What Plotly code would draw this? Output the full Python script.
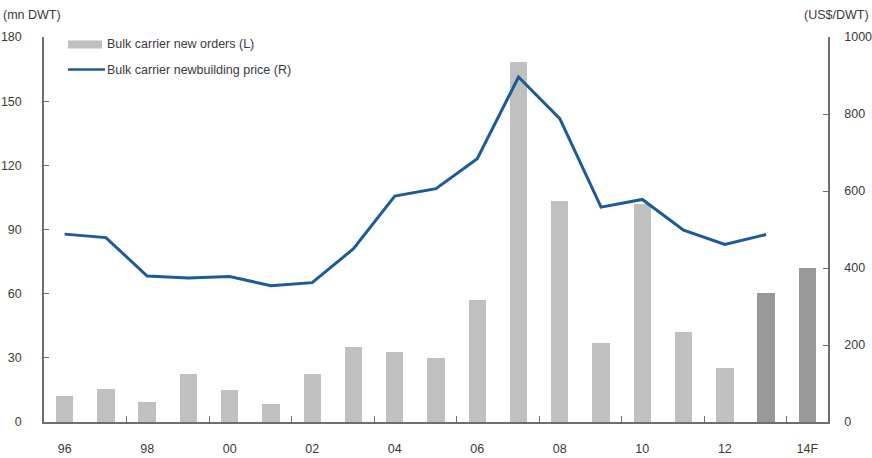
import plotly.graph_objects as go

# Years (two-digit labels), 2014 is a forecast
years = ["96", "97", "98", "99", "00", "01", "02", "03", "04", "05",
         "06", "07", "08", "09", "10", "11", "12", "13", "14F"]

# Bulk carrier new orders, mn DWT (left axis)
new_orders = [12.2, 15.3, 9.5, 22.3, 14.8, 8.3, 22.3, 35.1, 32.6, 30.1,
              57.2, 168.3, 103.3, 36.9, 102.1, 41.9, 25.3, 60.3, 72.0]

# Bulk carrier newbuilding price, US$/DWT (right axis), no value for 14F
nb_price = [488, 479, 379, 374, 378, 354, 362, 450, 587, 606,
            684, 896, 788, 558, 578, 498, 461, 487]

left_ticks = [0, 30, 60, 90, 120, 150, 180]
right_ticks = [0, 200, 400, 600, 800, 1000]
label_years = years[::2]

LIGHT = "#c0c0c0"
DARK = "#989898"
BLUE = "#1d5a98"
AXIS = "#6e6e6e"
TEXT = "#3a3a3a"
FONT = "Liberation Sans, Arial, sans-serif"

xs = list(range(len(years)))
bar_colors = [DARK if i >= 17 else LIGHT for i in xs]
# small separator ticks sit just before each labelled (even) year
sep_ticks = [i - 0.5 for i in xs[2::2]]

fig = go.Figure()
fig.add_trace(go.Bar(
    x=xs, y=new_orders, width=0.42, marker=dict(color=bar_colors, line_width=0),
    name="Bulk carrier new orders (L)", showlegend=False,
))
fig.add_trace(go.Scatter(
    x=xs[:len(nb_price)], y=nb_price, mode="lines", yaxis="y2",
    line=dict(color=BLUE, width=3), name="Bulk carrier newbuilding price (R)",
    showlegend=False,
))

W, H = 872, 458
ML, MR, MT, MB = 44, 44, 37, 36
pw, ph = W - ML - MR, H - MT - MB


def px(x):
    return (x - ML) / pw


def py(y):
    return (H - MB - y) / ph


# Hand-built legend: wide grey swatch and a line swatch
shapes = [
    dict(type="rect", xref="paper", yref="paper",
         x0=px(68), x1=px(102), y0=py(48.5), y1=py(40.5),
         fillcolor=LIGHT, line_width=0),
    dict(type="line", xref="paper", yref="paper",
         x0=px(68), x1=px(105), y0=py(69.5), y1=py(69.5),
         line=dict(color=BLUE, width=2.5)),
]
annotations = [
    dict(text=fig.data[0].name, xref="paper", yref="paper", x=px(105), y=py(44.5),
         xanchor="left", yanchor="middle", showarrow=False,
         font=dict(size=12.5, color=TEXT, family=FONT)),
    dict(text=fig.data[1].name, xref="paper", yref="paper", x=px(105), y=py(69.5),
         xanchor="left", yanchor="middle", showarrow=False,
         font=dict(size=12.5, color=TEXT, family=FONT)),
    dict(text="(mn DWT)", xref="paper", yref="paper", x=px(1), y=py(15),
         xanchor="left", yanchor="middle", showarrow=False,
         font=dict(size=12.5, color=TEXT, family=FONT)),
    dict(text="(US$/DWT)", xref="paper", yref="paper", x=px(871), y=py(15),
         xanchor="right", yanchor="middle", showarrow=False,
         font=dict(size=12.5, color=TEXT, family=FONT)),
]

fig.update_layout(
    width=W, height=H,
    margin=dict(l=ML, r=MR, t=MT, b=MB, pad=0, autoexpand=False),
    paper_bgcolor="white", plot_bgcolor="white",
    font=dict(family=FONT, size=12.5, color=TEXT),
    shapes=shapes, annotations=annotations,
    xaxis=dict(
        range=[-0.5, len(years) - 0.5], automargin=False,
        tickmode="array", tickvals=xs[::2], ticktext=label_years,
        ticks="", showgrid=False, zeroline=False,
        showline=True, linecolor=AXIS, linewidth=1.5,
        ticklabelstandoff=14,
        minor=dict(tickmode="array", tickvals=sep_ticks, ticks="inside",
                   ticklen=6, tickcolor=AXIS, tickwidth=1.3, showgrid=False),
    ),
    yaxis=dict(
        range=[0, 180], tickmode="array", tickvals=left_ticks, automargin=False,
        ticks="inside", ticklen=5, tickcolor=AXIS, tickwidth=1,
        showgrid=False, zeroline=False,
        showline=True, linecolor=AXIS, linewidth=1.5,
        ticklabelstandoff=18,
    ),
    yaxis2=dict(
        range=[0, 1000], tickmode="array", tickvals=right_ticks, automargin=False,
        overlaying="y", side="right",
        ticks="inside", ticklen=5, tickcolor=AXIS, tickwidth=1,
        showgrid=False, zeroline=False,
        showline=True, linecolor=AXIS, linewidth=1.5,
        ticklabelstandoff=12,
    ),
    bargap=0,
)

fig.write_html("out.html")
